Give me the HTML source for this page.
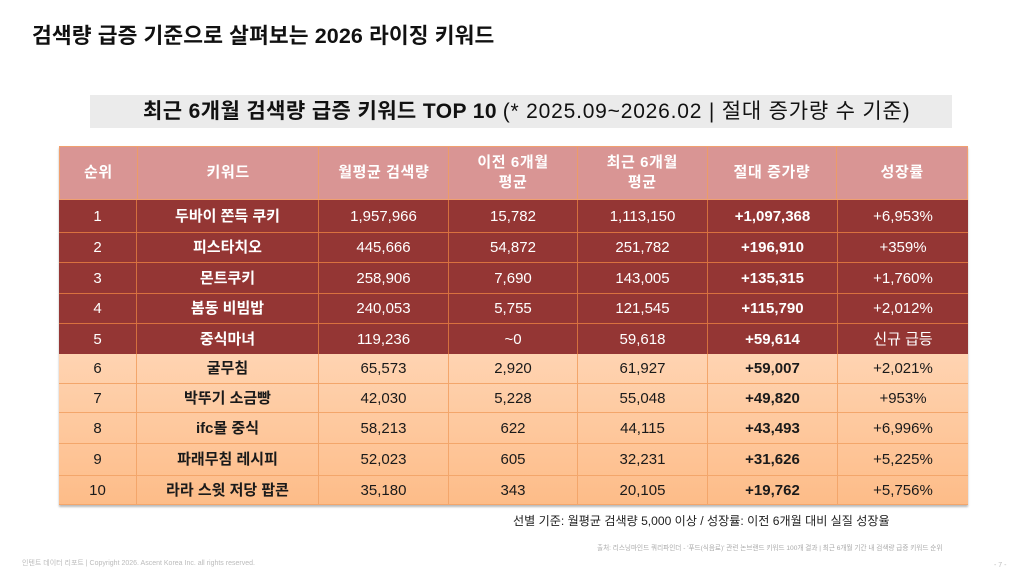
<!DOCTYPE html>
<html><head><meta charset="utf-8">
<style>
html,body{margin:0;padding:0;}
body{width:1024px;height:576px;overflow:hidden;background:#fff;position:relative;font-family:"Liberation Sans","Noto Sans CJK KR",sans-serif;color:#111;}
.abs{position:absolute;}
.title{left:32px;top:22px;font-size:21.5px;font-weight:bold;line-height:28px;white-space:nowrap;letter-spacing:0.1px;color:#111;}
.subbox{left:90px;top:95px;width:862px;height:33px;background:#ebebeb;}
.sub{left:143px;top:95px;height:33px;line-height:33px;font-size:21px;white-space:nowrap;color:#111;}
.sub b{font-weight:bold;letter-spacing:0.4px;}
.sub span{letter-spacing:0.8px;}
.tbl{left:59px;top:146px;width:909px;height:359px;box-shadow:0 2px 2px rgba(0,0,0,0.28);}
.row{position:absolute;left:0;width:909px;display:flex;box-sizing:border-box;}
.c{box-sizing:border-box;display:flex;align-items:center;justify-content:center;text-align:center;border-right:1px solid #ee9a5e;font-size:15px;line-height:19px;white-space:nowrap;}
.c:last-child{border-right:none;}
.w1{width:78px}.w2{width:182px}.w3{width:130px}.w4{width:129px}.w5{width:130px}.w6{width:130px}.w7{width:130px}
.hd{top:0;height:54px;background:#d99594;color:#fff;font-weight:bold;border:1px solid #f0a070;}
.hd .c{font-size:15px;letter-spacing:0.6px;line-height:20px;border-right-color:#ec9c68;}
.dk{background:#943634;color:#fff;border-top:1px solid #d9713f;}
.dk .c{border-right-color:#d4703e;}
.lt{color:#1a1a1a;border-top:1px solid #f3a66b;}
.lt .c{border-right-color:#f3a66b;}
.b{font-weight:bold;}
.lightbg{left:0;top:207px;width:909px;height:152px;background:linear-gradient(#ffd4b2,#fdbc88);}
.note{left:513px;top:512px;font-size:12.1px;line-height:18px;color:#222;white-space:nowrap;}
.src{left:597px;top:544px;font-size:6.6px;line-height:9px;color:#aaa;white-space:nowrap;}
.copy{left:22px;top:559px;font-size:7px;line-height:9px;color:#bbb;white-space:nowrap;}
.pg{left:994px;top:561px;font-size:7px;line-height:9px;color:#bbb;}
</style></head><body>
<div class="abs title">검색량 급증 기준으로 살펴보는 2026 라이징 키워드</div>
<div class="abs subbox"></div>
<div class="abs sub"><b>최근 6개월 검색량 급증 키워드 TOP 10</b> <span>(* 2025.09~2026.02 | 절대 증가량 수 기준)</span></div>

<div class="abs tbl">
  <div class="abs lightbg"></div>
  <div class="row hd">
    <div class="c w1">순위</div><div class="c w2">키워드</div><div class="c w3">월평균 검색량</div>
    <div class="c w4">이전 6개월<br>평균</div><div class="c w5">최근 6개월<br>평균</div><div class="c w6">절대 증가량</div><div class="c w7">성장률</div>
  </div>
  <div class="row dk" style="top:54px;height:32px;border-top:none">
    <div class="c w1">1</div><div class="c w2 b">두바이 쫀득 쿠키</div><div class="c w3">1,957,966</div><div class="c w4">15,782</div><div class="c w5">1,113,150</div><div class="c w6 b">+1,097,368</div><div class="c w7">+6,953%</div>
  </div>
  <div class="row dk" style="top:86px;height:30px">
    <div class="c w1">2</div><div class="c w2 b">피스타치오</div><div class="c w3">445,666</div><div class="c w4">54,872</div><div class="c w5">251,782</div><div class="c w6 b">+196,910</div><div class="c w7">+359%</div>
  </div>
  <div class="row dk" style="top:116px;height:31px">
    <div class="c w1">3</div><div class="c w2 b">몬트쿠키</div><div class="c w3">258,906</div><div class="c w4">7,690</div><div class="c w5">143,005</div><div class="c w6 b">+135,315</div><div class="c w7">+1,760%</div>
  </div>
  <div class="row dk" style="top:147px;height:30px">
    <div class="c w1">4</div><div class="c w2 b">봄동 비빔밥</div><div class="c w3">240,053</div><div class="c w4">5,755</div><div class="c w5">121,545</div><div class="c w6 b">+115,790</div><div class="c w7">+2,012%</div>
  </div>
  <div class="row dk" style="top:177px;height:31px">
    <div class="c w1">5</div><div class="c w2 b">중식마녀</div><div class="c w3">119,236</div><div class="c w4">~0</div><div class="c w5">59,618</div><div class="c w6 b">+59,614</div><div class="c w7">신규 급등</div>
  </div>
  <div class="row lt" style="top:208px;height:29px;border-top:none">
    <div class="c w1">6</div><div class="c w2 b">굴무침</div><div class="c w3">65,573</div><div class="c w4">2,920</div><div class="c w5">61,927</div><div class="c w6 b">+59,007</div><div class="c w7">+2,021%</div>
  </div>
  <div class="row lt" style="top:237px;height:29px">
    <div class="c w1">7</div><div class="c w2 b">박뚜기 소금빵</div><div class="c w3">42,030</div><div class="c w4">5,228</div><div class="c w5">55,048</div><div class="c w6 b">+49,820</div><div class="c w7">+953%</div>
  </div>
  <div class="row lt" style="top:266px;height:31px">
    <div class="c w1">8</div><div class="c w2 b">ifc몰 중식</div><div class="c w3">58,213</div><div class="c w4">622</div><div class="c w5">44,115</div><div class="c w6 b">+43,493</div><div class="c w7">+6,996%</div>
  </div>
  <div class="row lt" style="top:297px;height:32px">
    <div class="c w1">9</div><div class="c w2 b">파래무침 레시피</div><div class="c w3">52,023</div><div class="c w4">605</div><div class="c w5">32,231</div><div class="c w6 b">+31,626</div><div class="c w7">+5,225%</div>
  </div>
  <div class="row lt" style="top:329px;height:30px;border-bottom:1px solid #f3a66b">
    <div class="c w1">10</div><div class="c w2 b">라라 스윗 저당 팝콘</div><div class="c w3">35,180</div><div class="c w4">343</div><div class="c w5">20,105</div><div class="c w6 b">+19,762</div><div class="c w7">+5,756%</div>
  </div>
</div>

<div class="abs note">선별 기준: 월평균 검색량 5,000 이상 / 성장률: 이전 6개월 대비 실질 성장율</div>
<div class="abs src">출처: 리스닝마인드 쿼리파인더 - '푸드(식음료)' 관련 논브랜드 키워드 100개 결과 | 최근 6개월 기간 내 검색량 급증 키워드 순위</div>
<div class="abs copy">인텐트 데이터 리포트 | Copyright 2026. Ascent Korea Inc. all rights reserved.</div>
<div class="abs pg">- 7 -</div>
</body></html>
